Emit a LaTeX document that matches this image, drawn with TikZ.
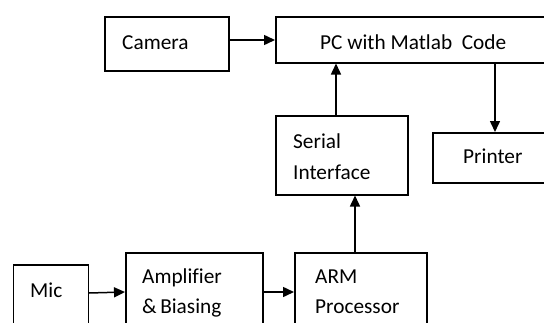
\documentclass[tikz,border=0pt]{standalone}
\usepackage{fontspec}
\setmainfont{Carlito}[Ligatures=NoCommon]
\usetikzlibrary{arrows.meta}
\begin{document}
\begin{tikzpicture}[x=1pt,y=-1pt,
  box/.style={draw=black,line width=1.5pt,rectangle,inner sep=0pt,anchor=north west},
  lbl/.style={anchor=base west,inner sep=0pt,font=\fontsize{21.3}{24}\selectfont},
  arr/.style={line width=1.5pt,-{Triangle[length=11pt,width=10pt]}}]
\useasboundingbox (0,0) rectangle (544,322);
\clip (0,0) rectangle (544,322);
\fill[white] (0,0) rectangle (544,322);
% boxes
\node[box,minimum width=124pt,minimum height=54pt] (cam) at (104,16) {};
\node[box,minimum width=290pt,minimum height=46pt] (pc) at (275,16) {};
\node[box,minimum width=132pt,minimum height=79pt] (ser) at (275,115) {};
\node[box,minimum width=130pt,minimum height=50pt] (prn) at (432,132) {};
\node[box,minimum width=75pt,minimum height=70pt] (mic) at (12.5,264) {};
\node[box,minimum width=137pt,minimum height=80pt] (amp) at (125,252) {};
\node[box,minimum width=132pt,minimum height=80pt] (arm) at (294,252) {};
% labels
\node[lbl] (tcam) at (122,49) {Camera};
\node[lbl] (tpc) at (320,49) {PC with Matlab\ \ Code};
\node[lbl] (tprn) at (463,163) {Printer};
\node[lbl] (tser1) at (293,148) {Serial};
\node[lbl] (tser2) at (293,179) {Interface};
\node[lbl] (tmic) at (30,297) {Mic};
\node[lbl] (tamp1) at (142,283) {Amplifier};
\node[lbl] (tamp2) at (142,313) {\&\,Biasing};
\node[lbl] (tarm1) at (315,283) {ARM};
\node[lbl] (tarm2) at (315,313) {Processor};
% connectors
\draw[arr] (cam.east |- 0,40) -- (pc.west |- 0,40);
\draw[arr] (ser.north -| 336,0) -- (pc.south -| 336,0);
\draw[arr] (pc.south -| 495,0) -- (prn.north -| 495,0);
\draw[arr] (arm.north -| 355,0) -- (ser.south -| 355,0);
\draw[arr] (mic.east |- 0,293) -- (amp.west |- 0,292);
\draw[arr] (amp.east |- 0,292) -- (arm.west |- 0,292);
\end{tikzpicture}
\end{document}
